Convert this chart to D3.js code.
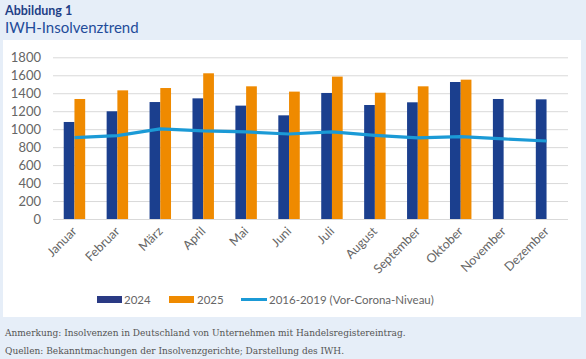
<!DOCTYPE html>
<html>
<head>
<meta charset="utf-8">
<script src="https://cdn.jsdelivr.net/npm/d3@7"></script>
<style>
  html, body { margin: 0; padding: 0; background: #e6eef8; }
  svg { display: block; }
</style>
</head>
<body>
<svg></svg>
<script>
const months = ['Januar', 'Februar', 'März', 'April', 'Mai', 'Juni', 'Juli', 'August', 'September', 'Oktober', 'November', 'Dezember'];
const values2024 = [1080, 1199, 1302, 1343, 1262, 1154, 1403, 1269, 1299, 1525, 1336, 1332];
const values2025 = [1336, 1432, 1458, 1622, 1477, 1418, 1585, 1406, 1477, 1551, null, null];
const valuesPre = [905, 928, 1003, 980, 969, 946, 969, 931, 902, 917, 891, 868];
const yTicks = [0, 200, 400, 600, 800, 1000, 1200, 1400, 1600, 1800];
const legendLabels = ['2024', '2025', '2016-2019 (Vor-Corona-Niveau)'];

let width = 586;
let height = 359;
let plotLeft = 53, plotRight = 568, plotTop = 57.3, plotBottom = 219;
let font = 'Lato, sans-serif';

let svg = d3.select('svg').attr('width', width).attr('height', height);

// header
svg.append('text').attr('x', 5).attr('y', 15)
    .attr('font-family', font).attr('font-weight', 'bold')
    .attr('font-size', 12.5).attr('fill', '#1f3f86').text('Abbildung 1');
svg.append('text').attr('x', 5).attr('y', 33)
    .attr('font-family', font)
    .attr('font-size', 15).attr('fill', '#1f4c9a').text('IWH-Insolvenztrend');

// white panel
svg.append('rect').attr('x', 3).attr('y', 40).attr('width', 578).attr('height', 277).attr('fill', '#fff');

let xScale = d3.scaleBand().domain(months).range([plotLeft, plotRight]).paddingInner(0.5).paddingOuter(0.25);
let subScale = d3.scaleBand().domain(['2024', '2025']).range([0, xScale.bandwidth()]);
let yScale = d3.scaleLinear().domain([0, 1800]).range([plotBottom, plotTop]);

// grid + y axis
let yAxis = d3.axisLeft(yScale).tickValues(yTicks).tickFormat(d3.format('d'))
    .tickSize(-(plotRight - plotLeft)).tickPadding(12);
let gy = svg.append('g').attr('transform', 'translate(' + plotLeft + ',0)').call(yAxis);
gy.select('.domain').remove();
gy.selectAll('line').attr('stroke', '#d9d9d9').attr('stroke-width', 1);
gy.selectAll('text').attr('font-family', font).attr('font-size', 13).attr('fill', '#666');

// bars
let series = [
    { key: '2024', values: values2024, color: '#1b3f8e' },
    { key: '2025', values: values2025, color: '#ef8a00' }
];
series.forEach((s) => {
    svg.append('g').selectAll('rect')
        .data(s.values.map((v, i) => ({ m: months[i], v: v })).filter((d) => d.v !== null))
        .enter()
        .append('rect')
        .attr('x', (d) => xScale(d.m) + subScale(s.key))
        .attr('y', (d) => yScale(d.v))
        .attr('width', subScale.bandwidth())
        .attr('height', (d) => plotBottom - yScale(d.v))
        .attr('fill', s.color);
});

// line
let line = d3.line()
    .x((d, i) => xScale(months[i]) + xScale.bandwidth() / 2)
    .y((d) => yScale(d));
svg.append('path').datum(valuesPre)
    .attr('d', line).attr('fill', 'none')
    .attr('stroke', '#1b9ad6').attr('stroke-width', 3.2)
    .attr('stroke-linejoin', 'round');

// x axis labels
let xAxis = d3.axisBottom(xScale).tickSize(0).tickPadding(0);
let gx = svg.append('g').attr('transform', 'translate(0,' + plotBottom + ')').call(xAxis);
gx.select('.domain').remove();
gx.selectAll('text')
    .attr('font-family', font).attr('font-size', 12.5).attr('fill', '#666')
    .attr('text-anchor', 'end')
    .attr('transform', 'translate(0,10) rotate(-45)')
    .attr('dy', '0.35em').attr('y', 0).attr('x', 0);

// legend
let lg = svg.append('g').attr('font-family', font).attr('font-size', 11.5).attr('fill', '#666');
lg.append('rect').attr('x', 97).attr('y', 296).attr('width', 25).attr('height', 7).attr('fill', '#2a3a84');
lg.append('text').attr('x', 124).attr('y', 304).text(legendLabels[0]);
lg.append('rect').attr('x', 169).attr('y', 296).attr('width', 25).attr('height', 7).attr('fill', '#ef8a00');
lg.append('text').attr('x', 197).attr('y', 304).text(legendLabels[1]);
lg.append('line').attr('x1', 241).attr('x2', 267).attr('y1', 299.5).attr('y2', 299.5)
    .attr('stroke', '#1b9ad6').attr('stroke-width', 3);
lg.append('text').attr('x', 269).attr('y', 304).text(legendLabels[2]);

// notes
let notes = svg.append('g').attr('font-family', '"DejaVu Serif Condensed", "Liberation Serif", serif')
    .attr('font-size', 10).attr('fill', '#555');
notes.append('text').attr('x', 5).attr('y', 336).text('Anmerkung: Insolvenzen in Deutschland von Unternehmen mit Handelsregistereintrag.');
notes.append('text').attr('x', 5).attr('y', 354).text('Quellen: Bekanntmachungen der Insolvenzgerichte; Darstellung des IWH.');
</script>
</body>
</html>
